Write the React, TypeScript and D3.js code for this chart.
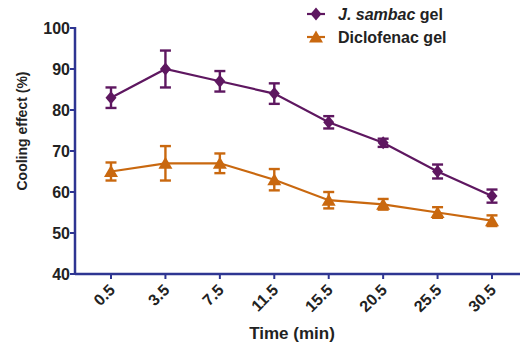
import React from 'react';
import * as d3 from 'd3';

const times = ['0.5', '3.5', '7.5', '11.5', '15.5', '20.5', '25.5', '30.5'];
const sambacMean = [83, 90, 87, 84, 77, 72, 65, 59];
const sambacErr = [2.5, 4.5, 2.5, 2.5, 1.5, 1, 1.7, 1.6];
const dicloMean = [65, 67, 67, 63, 58, 57, 55, 53];
const dicloErr = [2.2, 4.2, 2.4, 2.6, 2, 1.3, 1.3, 1.3];
const yTicks = [40, 50, 60, 70, 80, 90, 100];

const PURPLE = '#5e1760';
const ORANGE = '#c9680f';
const AXIS = '#2e3592';

export default function App() {
  const width = 520, height = 345;
  const x0 = 75, xEnd = 520;
  const x = d3.scalePoint<string>().domain(times).range([111, 492]);
  const y = d3.scaleLinear().domain([40, 100]).range([274, 28]);

  const line = d3.line<number>()
    .x((d, i) => x(times[i])!)
    .y(d => y(d));

  const errBars = (mean: number[], err: number[], color: string) =>
    mean.map((m, i) => {
      const cx = x(times[i])!;
      return (
        <g key={i} stroke={color} strokeWidth={2.4}>
          <line x1={cx} x2={cx} y1={y(m + err[i])} y2={y(m - err[i])} />
          <line x1={cx - 5.5} x2={cx + 5.5} y1={y(m + err[i])} y2={y(m + err[i])} />
          <line x1={cx - 5.5} x2={cx + 5.5} y1={y(m - err[i])} y2={y(m - err[i])} />
        </g>
      );
    });

  const diamond = (cx: number, cy: number, k: number) => (
    <path key={k} d={`M${cx},${cy - 6.5}L${cx + 5.5},${cy}L${cx},${cy + 6.5}L${cx - 5.5},${cy}Z`} fill={PURPLE} />
  );
  const tri = (cx: number, cy: number, k: number) => (
    <path key={k} d={`M${cx},${cy - 6.5}L${cx + 7},${cy + 5.5}L${cx - 7},${cy + 5.5}Z`} fill={ORANGE} />
  );

  const font = 'Arial, "Liberation Sans", sans-serif';

  return (
    <svg width={width} height={height} style={{ position: 'absolute', left: 0, top: 0 }} fontFamily={font}>
      <rect width={width} height={height} fill="#fff" />
      {/* axes */}
      <line x1={x0} x2={x0} y1={27} y2={275} stroke={AXIS} strokeWidth={2.5} />
      <line x1={x0} x2={xEnd} y1={274} y2={274} stroke={AXIS} strokeWidth={2.5} />
      {yTicks.map(t => (
        <g key={t}>
          <line x1={x0 - 5} x2={x0} y1={y(t)} y2={y(t)} stroke={AXIS} strokeWidth={2} />
          <text x={x0 - 5} y={y(t)} dy="0.36em" textAnchor="end" fontSize={16} fontWeight="bold" fill="#222">{t}</text>
        </g>
      ))}
      {times.map(t => (
        <g key={t}>
          <line x1={x(t)} x2={x(t)} y1={274} y2={279} stroke={AXIS} strokeWidth={2} />
          <text transform={`translate(${x(t)! + 5},${291}) rotate(-45)`} textAnchor="end" fontSize={16} fontWeight="bold" fill="#222">{t}</text>
        </g>
      ))}
      <text transform="translate(27,131) rotate(-90)" textAnchor="middle" fontSize={14} fontWeight="bold" fill="#222">Cooling effect (%)</text>
      <text x={292} y={339} textAnchor="middle" fontSize={17} fontWeight="bold" fill="#222">Time (min)</text>

      {/* series */}
      <path d={line(dicloMean) ?? ''} fill="none" stroke={ORANGE} strokeWidth={2.2} />
      {errBars(dicloMean, dicloErr, ORANGE)}
      {dicloMean.map((m, i) => tri(x(times[i])!, y(m), i))}

      <path d={line(sambacMean) ?? ''} fill="none" stroke={PURPLE} strokeWidth={2.2} />
      {errBars(sambacMean, sambacErr, PURPLE)}
      {sambacMean.map((m, i) => diamond(x(times[i])!, y(m), i))}

      {/* legend */}
      <line x1={307} x2={325} y1={14} y2={14} stroke={PURPLE} strokeWidth={2.2} />
      {diamond(316, 14, 100)}
      <text x={338} y={14} dy="0.36em" fontSize={16} fontWeight="bold" fill="#222">
        <tspan fontStyle="italic">J. sambac</tspan> gel
      </text>
      <line x1={307} x2={325} y1={37} y2={37} stroke={ORANGE} strokeWidth={2.2} />
      {tri(316, 37, 101)}
      <text x={338} y={37} dy="0.36em" fontSize={16} fontWeight="bold" fill="#222">Diclofenac gel</text>
    </svg>
  );
}
